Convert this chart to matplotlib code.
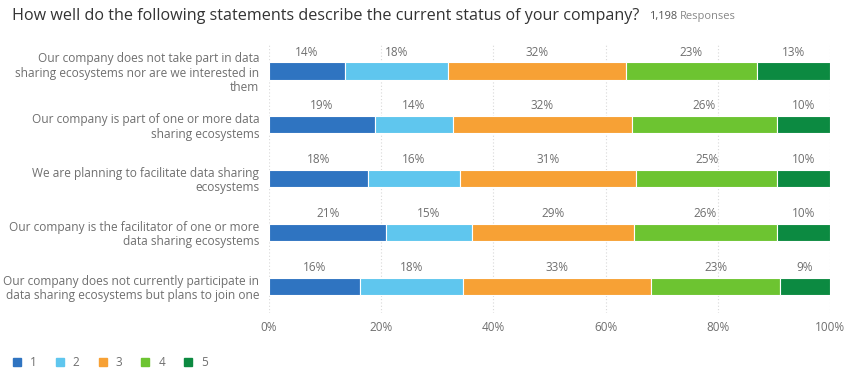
import matplotlib
matplotlib.use('Agg')
import matplotlib.pyplot as plt
from matplotlib.lines import Line2D

plt.rcParams['font.family'] = ['Open Sans', 'DejaVu Sans']

# data
statements = [
    'Our company does not take part in data\nsharing ecosystems nor are we interested in\nthem',
    'Our company is part of one or more data\nsharing ecosystems',
    'We are planning to facilitate data sharing\necosystems',
    'Our company is the facilitator of one or more\ndata sharing ecosystems',
    'Our company does not currently participate in\ndata sharing ecosystems but plans to join one',
]
levels = ['1', '2', '3', '4', '5']
shares = [
    [13.5, 18.4, 31.7, 23.4, 13.0],
    [18.9, 13.9, 31.9, 25.8, 9.5],
    [17.6, 16.4, 31.4, 25.2, 9.4],
    [20.9, 15.2, 28.9, 25.6, 9.4],
    [16.2, 18.4, 33.5, 23.0, 8.9],
]
shown = [
    [14, 18, 32, 23, 13],
    [19, 14, 32, 26, 10],
    [18, 16, 31, 25, 10],
    [21, 15, 29, 26, 10],
    [16, 18, 33, 23, 9],
]
xticks = [0, 20, 40, 60, 80, 100]
colors = ['#2f74c1', '#5fc6ee', '#f7a135', '#6dc431', '#0c8a41']

grey = '#6f6f6f'
fig = plt.figure(figsize=(8.5, 3.74), dpi=100)
ax = fig.add_axes([0.3165, 0.163, 0.66, 0.719])

h = 0.32
for i, row in enumerate(shares):
    left = 0
    for j, v in enumerate(row):
        ax.barh(i, v, left=left, height=h, color=colors[j], edgecolor='white', linewidth=0.8, zorder=3)
        ax.text(left + v / 2, i - h / 2 - 0.07, '%d%%' % shown[i][j], ha='center', va='bottom',
                fontsize=8.5, color=grey)
        left += v

ax.set_xlim(0, 100)
ax.set_ylim(4.5, -0.5)
ax.set_xticks(xticks)
ax.set_xticklabels(['%d%%' % t for t in xticks], fontsize=8.5, color=grey)
ax.set_yticks(range(len(statements)))
ax.set_yticklabels(statements, fontsize=8.6, color=grey, linespacing=1.12)
ax.tick_params(length=0, pad=6)
ax.tick_params(axis='y', pad=7)
for s in ax.spines.values():
    s.set_visible(False)
ax.grid(axis='x', color='#d8d8d8', linestyle=(0, (1, 2)), linewidth=0.8, zorder=0)

fig.text(0.014, 0.957, 'How well do the following statements describe the current status of your company?',
         fontsize=11.6, color='#333333', va='center')
fig.text(0.764, 0.957, '1,198', fontsize=8, color='#555555', va='center')
fig.text(0.8, 0.957, 'Responses', fontsize=8, color='#888888', va='center')

handles = [Line2D([0], [0], marker='s', linestyle='none', markersize=6, color=c) for c in colors]
fig.legend(handles, levels, loc='center left', bbox_to_anchor=(0.002, 0.03), ncol=5, frameon=False,
           handlelength=0.8, handletextpad=0.7, columnspacing=1.55, prop={'size': 8.5}, labelcolor=grey)

fig.savefig('out.png', dpi=100)
